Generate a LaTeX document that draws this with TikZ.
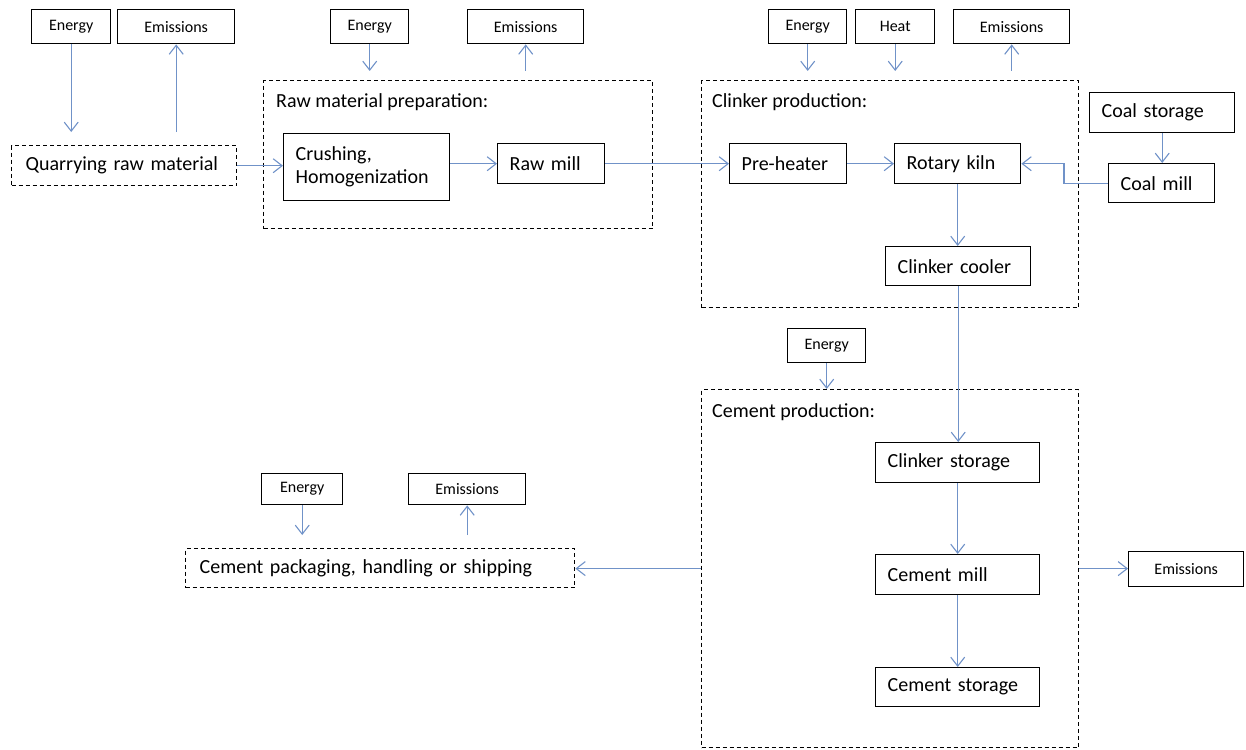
\documentclass[tikz,border=0pt]{standalone}
\usepackage{fontspec}
\setmainfont{Carlito}
\usetikzlibrary{arrows.meta}
\definecolor{flow}{RGB}{112,146,200}
\begin{document}
\begin{tikzpicture}[x=1pt,y=-1pt,
  big/.style={draw=black, line width=1.4pt, inner xsep=12pt, inner ysep=0pt, align=left,
    font=\fontsize{20}{23}\selectfont, anchor=north west},
  dbig/.style={big, dash pattern=on 4pt off 3pt, inner xsep=14pt},
  small/.style={draw=black, line width=1.4pt, anchor=north west, inner sep=0pt, align=center,
    font=\fontsize{16}{18}\selectfont},
  group/.style={draw=black, line width=1.2pt, dash pattern=on 4pt off 3pt, anchor=north west, inner sep=0pt},
  lbl/.style={anchor=base west, inner sep=0pt, font=\fontsize{20}{23}\selectfont},
  arr/.style={draw=flow, line width=1.1pt, -{Straight Barb[length=9pt,width=14pt,line width=1.1pt]}}]
\useasboundingbox (0,0) rectangle (1246,749);

% group boxes
\node[group, minimum width=389pt, minimum height=148pt] (rawprep) at (263,80) {};
\node[group, minimum width=377pt, minimum height=227pt] (clinker) at (701,80) {};
\node[group, minimum width=377pt, minimum height=358pt] (cement) at (701,389) {};
\node[lbl] (rawlbl) at (276,108) {Raw material preparation:};
\node[lbl] (clklbl) at (712,108) {Clinker production:};
\node[lbl] (cemlbl) at (712,417) {Cement production:};

% small boxes
\node[small, minimum width=79pt, minimum height=34pt] (en1) at (31,9) {Energy};
\node[small, minimum width=117pt, minimum height=34pt] (em1) at (117,9) {Emissions};
\node[small, minimum width=78pt, minimum height=34pt] (en2) at (330,9) {Energy};
\node[small, minimum width=116pt, minimum height=34pt] (em2) at (467,9) {Emissions};
\node[small, minimum width=78pt, minimum height=34pt] (en3) at (768,9) {Energy};
\node[small, minimum width=79pt, minimum height=34pt] (heat) at (855,9) {Heat};
\node[small, minimum width=116pt, minimum height=34pt] (em3) at (953,9) {Emissions};
\node[small, minimum width=78pt, minimum height=34pt] (en4) at (787,328) {Energy};
\node[small, minimum width=115pt, minimum height=35pt] (em5) at (1128,551) {Emissions};
\node[small, minimum width=81pt, minimum height=31pt] (en6) at (261,473) {Energy};
\node[small, minimum width=117pt, minimum height=31pt] (em6) at (408,473) {Emissions};

% process boxes
\node[dbig, text width=197pt, minimum height=40pt] (quarry) at (11,145) {Quarrying raw material};
\node[big, text width=142pt, minimum height=67pt] (crush) at (283,133) {Crushing,\\Homogenization};
\node[big, text width=83pt, minimum height=40pt] (rawmill) at (497,143) {Raw mill};
\node[big, text width=93pt, minimum height=40pt] (preheat) at (729,143) {Pre-heater};
\node[big, text width=102pt, minimum height=40pt] (rotary) at (894,143) {Rotary kiln};
\node[big, text width=121pt, minimum height=39pt] (cooler) at (885,246) {Clinker cooler};
\node[big, text width=121pt, minimum height=40pt] (coalst) at (1089,92) {Coal storage};
\node[big, text width=82pt, minimum height=39pt] (coalmill) at (1108,163) {Coal mill};
\node[big, text width=140pt, minimum height=40pt] (clst) at (875,442) {Clinker storage};
\node[big, text width=140pt, minimum height=40pt] (cmill) at (875,554) {Cement mill};
\node[big, text width=140pt, minimum height=39pt] (cstor) at (875,667) {Cement storage};
\node[dbig, text width=361pt, minimum height=39pt] (pack) at (185,548) {Cement packaging, handling or shipping};

\coordinate (bend) at (1064,0);

% connectors
\draw[arr, shorten >=13pt] (en1.south) -- (en1.south |- quarry.north);
\draw[arr, shorten <=13pt] (em1.south |- quarry.north) -- (em1.south);
\draw[arr] (quarry.east) -- (quarry.east -| crush.west);
\draw[arr, shorten >=9pt] (en2.south) -- (en2.south |- rawprep.north);
\draw[arr, shorten <=9pt] (em2.south |- rawprep.north) -- (em2.south);
\draw[arr] (crush.east |- rawmill.west) -- (rawmill.west);
\draw[arr] (rawmill.east) -- (preheat.west);
\draw[arr, shorten >=9pt] (en3.south) -- (en3.south |- clinker.north);
\draw[arr, shorten >=9pt] (heat.south) -- (heat.south |- clinker.north);
\draw[arr, shorten <=9pt] (em3.south |- clinker.north) -- (em3.south);
\draw[arr] (preheat.east) -- (rotary.west);
\draw[arr] (coalst.south) -- (coalst.south |- coalmill.north);
\draw[arr] (coalmill.west) -- (coalmill.west -| bend) |- (rotary.east);
\draw[arr] (rotary.south) -- (rotary.south |- cooler.north);
\draw[arr] (cooler.south) -- (cooler.south |- clst.north);
\draw[arr] (en4.south) -- (en4.south |- cement.north);
\draw[arr] (clst.south) -- (clst.south |- cmill.north);
\draw[arr] (cmill.south) -- (cmill.south |- cstor.north);
\draw[arr] (cement.east) -- (cement.east -| em5.west);
\draw[arr] (cement.west) -- (cement.west -| pack.east);
\draw[arr, shorten >=13pt] (en6.south) -- (en6.south |- pack.north);
\draw[arr, shorten <=13pt] (em6.south |- pack.north) -- (em6.south);
\end{tikzpicture}
\end{document}
